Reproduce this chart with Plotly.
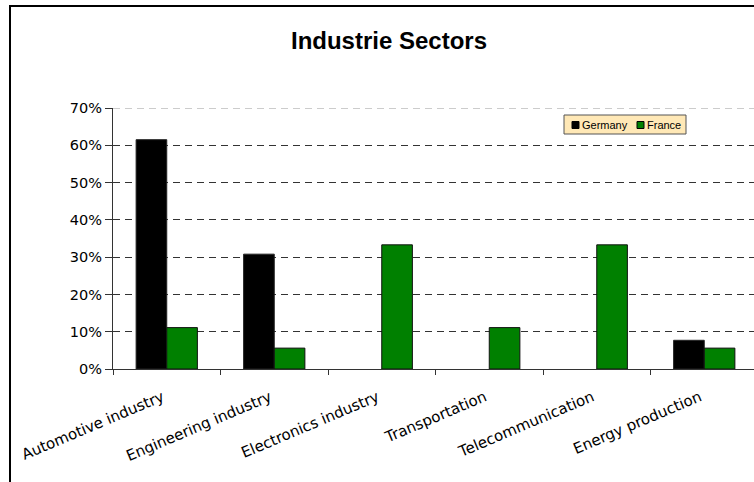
import plotly.graph_objects as go

# Share of companies per industry sector
sectors = ["Automotive industry", "Engineering industry", "Electronics industry",
           "Transportation", "Telecommunication", "Energy production"]
germany = [0.615, 0.308, 0.0, 0.0, 0.0, 0.077]
france = [0.111, 0.056, 0.333, 0.111, 0.333, 0.056]
y_ticks = [0, 0.1, 0.2, 0.3, 0.4, 0.5, 0.6, 0.7]

W, H = 754, 482
L, R, T, B = 113, 0, 108, 113
PW, PH = W - L - R, H - T - B
CAT_PX = 107.5  # pixel width of one category slot


def px_x(p):
    return (p - L) / PW


def px_y(p):
    return (H - B - p) / PH


def outline_widths(vals):
    # empty bars get no outline so nothing is drawn on the baseline
    return [1 if v > 0 else 0 for v in vals]


fig = go.Figure()
fig.add_trace(go.Bar(name="Germany", x=sectors, y=germany,
                     marker=dict(color="#000000",
                                 line=dict(color="#222222", width=outline_widths(germany))),
                     showlegend=False))
fig.add_trace(go.Bar(name="France", x=sectors, y=france,
                     marker=dict(color="#008000",
                                 line=dict(color="#111111", width=outline_widths(france))),
                     showlegend=False))

shapes = []
# top gridline at the axis maximum (lighter, like the plot-area edge)
shapes.append(dict(type="line", xref="paper", yref="y", x0=0, x1=1, y0=0.7, y1=0.7,
                   line=dict(color="#9a9a9a", width=1, dash="7px,5px"), layer="below"))
# outer chart frame
shapes.append(dict(type="rect", xref="paper", yref="paper",
                   x0=px_x(10), x1=px_x(W + 20), y0=px_y(H + 20), y1=px_y(6),
                   line=dict(color="#000000", width=2), fillcolor="rgba(0,0,0,0)",
                   layer="above"))
# legend box
lx0, lx1, ly0, ly1 = 564, 686, 115, 134
shapes.append(dict(type="rect", xref="paper", yref="paper",
                   x0=px_x(lx0), x1=px_x(lx1), y0=px_y(ly1), y1=px_y(ly0),
                   line=dict(color="#555555", width=1), fillcolor="#FFE8B6",
                   layer="above"))
legend_items = [("Germany", "#000000", 572), ("France", "#008000", 637)]
annotations = []
for name, col, sx in legend_items:
    shapes.append(dict(type="rect", xref="paper", yref="paper",
                       x0=px_x(sx), x1=px_x(sx + 7), y0=px_y(128.5), y1=px_y(121.5),
                       line=dict(color="#000000", width=1), fillcolor=col,
                       layer="above"))
    annotations.append(dict(text=name, xref="paper", yref="paper",
                            x=px_x(sx + 8), y=px_y(125), xanchor="left", yanchor="middle",
                            showarrow=False,
                            font=dict(family="Liberation Sans, Arial", size=11, color="#000000")))

# category labels end slightly before the slot centre
tick_text = [s + "\u00a0" for s in sectors]

fig.update_layout(
    width=W, height=H,
    margin=dict(l=L, r=R, t=T, b=B, pad=0),
    paper_bgcolor="white", plot_bgcolor="white",
    barmode="group", bargap=0.43, bargroupgap=0,
    title=dict(text="<b>Industrie Sectors</b>", x=389 / W, xanchor="center",
               y=1 - 41 / H, yanchor="middle", xref="container", yref="container",
               font=dict(family="Liberation Sans, Arial", size=24, color="#000000")),
    xaxis=dict(type="category", range=[-0.5, -0.5 + PW / CAT_PX],
               tickmode="array", tickvals=sectors, ticktext=tick_text,
               tickson="boundaries", ticks="outside", ticklen=5, tickcolor="#333333",
               showline=True, linecolor="#333333", linewidth=1,
               showgrid=False, tickangle=-23, ticklabelstandoff=11,
               tickfont=dict(family="DejaVu Sans, Verdana", size=15, color="#000000")),
    yaxis=dict(range=[0, 0.7], tickvals=y_ticks, tickformat=".0%",
               ticks="outside", ticklen=7, tickcolor="#333333",
               showline=True, linecolor="#333333", linewidth=1,
               showgrid=True, gridcolor="#333333", gridwidth=1, griddash="7px,5px",
               zeroline=False,
               tickfont=dict(family="DejaVu Sans, Verdana", size=14.5, color="#000000")),
    shapes=shapes,
    annotations=annotations,
)

fig.write_html("out.html")
